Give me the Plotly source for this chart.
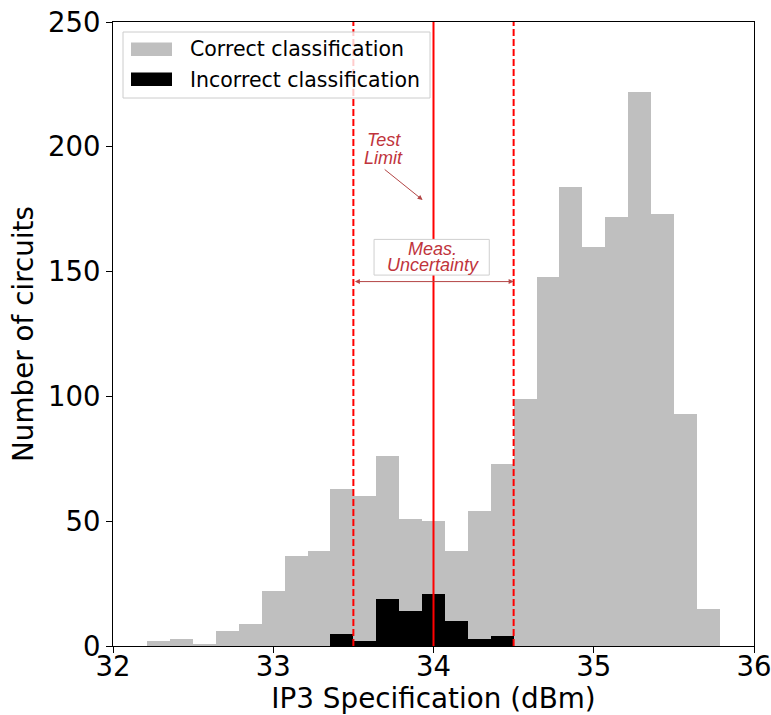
import numpy as np
import plotly.graph_objects as go

# Histogram bins (width 1/7 dBm, edges aligned with 33.5 and 34.5)
bin_width = 1 / 7
bin_first_edge = 33.5 - 9 * bin_width
n_bins = 25
bin_centers = bin_first_edge + bin_width * (np.arange(n_bins) + 0.5)

correct_counts = [2, 3, 1, 6, 9, 22, 36, 38, 63, 60, 76, 51, 50,
                  38, 54, 73, 99, 148, 184, 160, 172, 222, 173, 93, 15]
incorrect_counts = [0, 0, 0, 0, 0, 0, 0, 0, 5, 2, 19, 14, 21,
                    10, 3, 4, 0, 0, 0, 0, 0, 0, 0, 0, 0]

test_limit = 34.0
meas_uncertainty = 0.5
x_ticks = [32, 33, 34, 35, 36]
y_ticks = [0, 50, 100, 150, 200, 250]

series_names = ["Correct classification", "Incorrect classification"]
series_colors = ["#bfbfbf", "#000000"]

FONT = "DejaVu Sans"
NOTE_FONT = "Liberation Sans"
ANN_RED = "#c0343c"
ARROW_RED = "#b34545"

fig = go.Figure()
fig.add_trace(go.Bar(x=bin_centers, y=correct_counts, width=bin_width,
                     marker=dict(color=series_colors[0], line=dict(width=0)),
                     name=series_names[0]))
fig.add_trace(go.Bar(x=bin_centers, y=incorrect_counts, width=bin_width,
                     marker=dict(color=series_colors[1], line=dict(width=0)),
                     name=series_names[1]))

shapes = []
# Test limit and uncertainty band boundaries
for xv, dash in [(test_limit - meas_uncertainty, "7px,3px"),
                 (test_limit + meas_uncertainty, "7px,3px"),
                 (test_limit, "solid")]:
    shapes.append(dict(type="line", xref="x", yref="paper", x0=xv, x1=xv,
                       y0=0, y1=1, layer="above",
                       line=dict(color="#ff0000", width=2, dash=dash)))

# Frame behind the "Meas. Uncertainty" note
shapes.append(dict(type="rect", xref="x", yref="y", layer="above",
                   x0=33.629, x1=34.348, y0=148.6, y1=162.9,
                   fillcolor="#ffffff", line=dict(color="#cfcfcf", width=1)))

# Legend box (paper coordinates)
def px_to_paper_x(px):
    return (px - 113) / (754 - 113)

def px_to_paper_y(py):
    return (646 - py) / (646 - 22)

shapes.append(dict(type="rect", xref="paper", yref="paper", layer="above",
                   x0=px_to_paper_x(123), x1=px_to_paper_x(430),
                   y0=px_to_paper_y(98), y1=px_to_paper_y(32),
                   fillcolor="rgba(255,255,255,0.8)",
                   line=dict(color="#cccccc", width=1)))
for i, (yc0, yc1) in enumerate([(42.5, 56), (72.5, 86)]):
    shapes.append(dict(type="rect", xref="paper", yref="paper", layer="above",
                       x0=px_to_paper_x(131), x1=px_to_paper_x(172),
                       y0=px_to_paper_y(yc1), y1=px_to_paper_y(yc0),
                       fillcolor=series_colors[i], line=dict(width=0)))

annotations = []
for name, yc in zip(series_names, [49.5, 79.5]):
    annotations.append(dict(xref="paper", yref="paper", x=px_to_paper_x(188),
                            y=px_to_paper_y(yc), xanchor="left", yanchor="middle",
                            text=name, showarrow=False,
                            font=dict(family=FONT, size=20.5, color="#000000")))

def note(x, y, text):
    return dict(xref="x", yref="y", x=x, y=y, text=f"<i>{text}</i>",
                showarrow=False, xanchor="center", yanchor="middle",
                font=dict(family=NOTE_FONT, size=18, color=ANN_RED))

# "Test Limit" label with its arrow
annotations.append(note(33.691, 202.6, "Test"))
annotations.append(note(33.687, 195.6, "Limit"))
annotations.append(dict(xref="x", yref="y", x=33.932, y=178.7, axref="x", ayref="y",
                        ax=33.686, ay=191.4, text="", showarrow=True,
                        arrowhead=2, arrowsize=1, arrowwidth=1, arrowcolor=ARROW_RED))

# Measurement uncertainty span
annotations.append(dict(xref="x", yref="y", x=test_limit + meas_uncertainty, y=146,
                        axref="x", ayref="y", ax=test_limit - meas_uncertainty, ay=146,
                        text="", showarrow=True, arrowside="end+start",
                        arrowhead=2, arrowsize=1, arrowwidth=1, arrowcolor=ARROW_RED))
annotations.append(note(33.996, 159.1, "Meas."))
annotations.append(note(33.996, 152.8, "Uncertainty"))

axis_common = dict(ticks="outside", ticklen=6, tickwidth=1, tickcolor="#000",
                   showline=True, linecolor="#000", linewidth=1, mirror=True,
                   showgrid=False, zeroline=False, automargin=False,
                   ticklabeloverflow="allow",
                   tickfont=dict(size=27.5, family=FONT, color="#000"))

fig.update_layout(
    width=771, height=715,
    margin=dict(l=113, r=17, t=22, b=69),
    paper_bgcolor="#ffffff", plot_bgcolor="#ffffff",
    barmode="overlay", bargap=0, showlegend=False,
    font=dict(family=FONT, color="#000000"),
    shapes=shapes, annotations=annotations,
    xaxis=dict(range=[32, 36], tickvals=x_ticks, ticklabelstandoff=-10,
               **axis_common,
               title=dict(text="IP3 Specification (dBm)", standoff=2,
                          font=dict(size=27.8, family=FONT, color="#000"))),
    yaxis=dict(range=[0, 250], tickvals=y_ticks, **axis_common,
               title=dict(text="Number of circuits", standoff=6,
                          font=dict(size=27.8, family=FONT, color="#000"))),
)

fig.write_html("out.html")
